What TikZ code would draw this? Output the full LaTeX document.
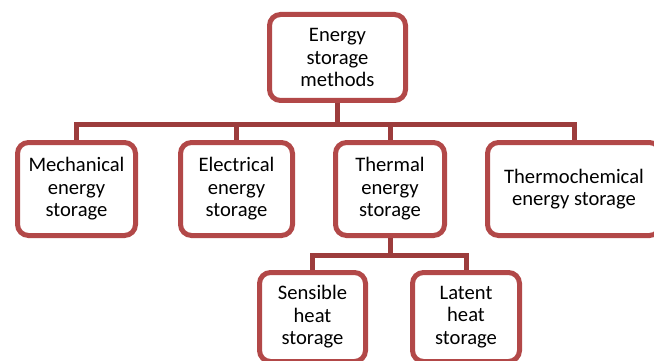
\documentclass[tikz,border=0pt]{standalone}
\usepackage{fontspec}
\setmainfont{Carlito}
\usepackage{xcolor}
\usetikzlibrary{positioning}
\definecolor{boxred}{RGB}{178,72,72}
\definecolor{linkred}{RGB}{156,60,60}

\begin{document}
\begin{tikzpicture}[
    x=1pt, y=-1pt,
    node distance=38pt,
    method/.style={rectangle, rounded corners=11pt, draw=boxred, line width=5pt, fill=white, minimum height=93pt, align=center, inner sep=2pt, font=\fontsize{20.6}{22.5}\selectfont},
    link/.style={draw=linkred, line width=5pt, line join=miter}
]
    \useasboundingbox (0,0) rectangle (654,361);

    \node[method, minimum width=136pt, minimum height=86pt] (esm) at (337.5,57.5) {Energy\\storage\\methods};
    \node[method, minimum width=118pt] (mech) at (76.5,189) {Mechanical\\energy\\storage};
    \node[method, minimum width=112pt, right=40pt of mech] (elec) {Electrical\\energy\\storage};
    \node[method, minimum width=109pt, right=of elec] (therm) {Thermal\\energy\\storage};
    \node[method, minimum width=173pt, right=of therm] (tchem) {Thermochemical\\energy storage};

    \node[method, minimum width=106pt, minimum height=89pt, below=32pt of therm, xshift=-77.5pt] (sens) {Sensible\\heat\\storage};
    \node[method, minimum width=107pt, minimum height=89pt, right=42pt of sens] (latent) {Latent\\heat\\storage};

    \coordinate (bus1) at (0,124.5);
    \coordinate (bus2) at (0,255);

    \draw[link] (esm.south) -- (esm.south |- bus1) -| (mech.north);
    \draw[link] (esm.south |- bus1) -| (elec.north);
    \draw[link] (esm.south |- bus1) -| (therm.north);
    \draw[link] (esm.south |- bus1) -| (tchem.north);

    \draw[link] (therm.south) -- (therm.south |- bus2) -| (sens.north);
    \draw[link] (therm.south |- bus2) -| (latent.north);
\end{tikzpicture}
\end{document}
